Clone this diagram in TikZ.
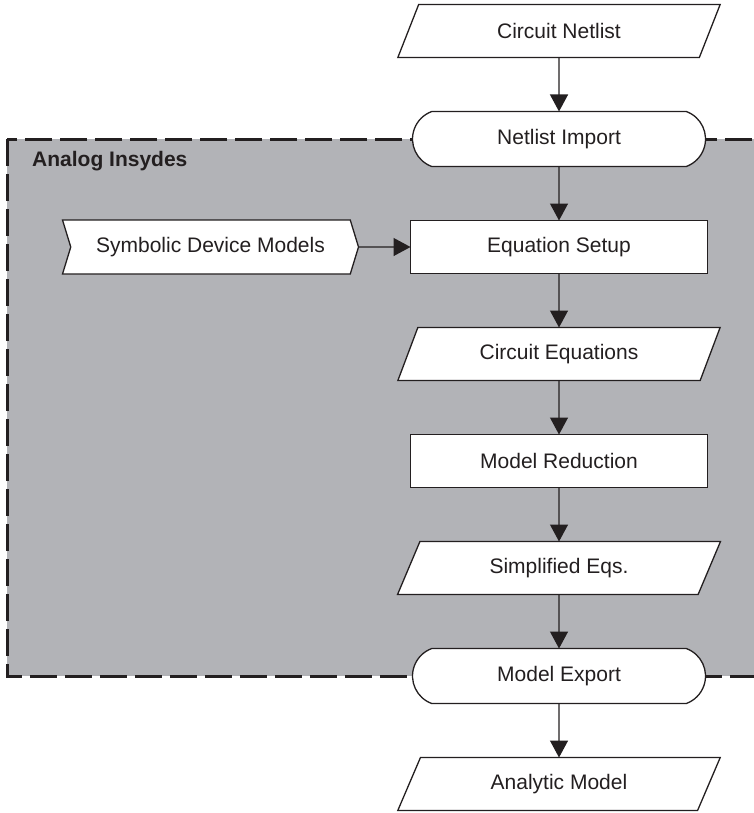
\documentclass[tikz,border=0pt]{standalone}
\usepackage{fontspec}
\setmainfont{Liberation Sans}
\usepackage{tikz}
\usetikzlibrary{arrows.meta,positioning,shapes.geometric,shapes.misc,shapes.symbols,backgrounds}
\definecolor{my_black}{RGB}{35,31,32}
\definecolor{my_gray}{RGB}{178,179,183}
\tikzset{
  flownode/.style = {align=center, inner sep=2pt, outer sep=0pt, draw=my_black, line width=1.3pt,
  fill=white, text=my_black, font=\fontsize{21}{25}\selectfont, minimum height=53pt},
  flw_box/.style = {flownode, rectangle, minimum width=297pt},
  flw_io/.style = {flownode, trapezium, trapezium left angle=64, trapezium right angle=116,
  trapezium stretches=true, minimum width=323pt},
  flw_term/.style = {flownode, rounded rectangle, rounded rectangle arc length=140,
  minimum width=297pt, minimum height=55pt},
  flw_src/.style = {flownode, signal, signal from=west, signal to=east, signal pointer angle=146,
  minimum width=296pt, minimum height=54pt}
}

\begin{document}
\begin{tikzpicture}[x=1pt,y=-1pt,node distance=54pt,
        flow_arrow/.style={-{Triangle[length=17pt,width=18pt]}, line width=1.3pt, draw=my_black},
        box_line/.style={draw=my_black, line width=3pt, dash pattern=on 27pt off 8pt, fill=my_gray}]
        \useasboundingbox (0,0) rectangle (754,813);
        \node [flw_io] (c_netlist) at (559,31) {Circuit Netlist};
        \node [flw_term, below=of c_netlist] (n_import) {Netlist Import};
        \node [flw_box, below=of n_import] (eq_setup) {Equation Setup};
        \node [flw_io, below=of eq_setup] (c_equations) {Circuit Equations};
        \node [flw_box, below=of c_equations] (m_reduction) {Model Reduction};
        \node [flw_io, below=of m_reduction] (s_eqs) {Simplified Eqs.};
        \node [flw_term, below=of s_eqs] (m_export) {Model Export};
        \node [flw_io, below=of m_export] (a_model) {Analytic Model};
        \node [flw_src, left=52pt of eq_setup] (sym_models) {Symbolic Device Models};
        \node [anchor=base west, inner sep=0pt, text=my_black,
               font=\fontsize{21}{25}\selectfont\bfseries] (title) at (32,167) {Analog Insydes};
        % connectors
        \foreach \a/\b in {c_netlist/n_import, n_import/eq_setup, eq_setup/c_equations,
                c_equations/m_reduction, m_reduction/s_eqs, s_eqs/m_export, m_export/a_model}
            \draw [flow_arrow] (\a) -- (\b);
        \draw [flow_arrow] (sym_models) -- (eq_setup);
        % dashed frame behind the flow
        \coordinate (left_edge) at (7,0);
        \coordinate (right_edge) at (770,0);
        \begin{scope}[on background layer]
            \draw [box_line] (left_edge |- n_import.center) rectangle (right_edge |- m_export.center);
        \end{scope}
\end{tikzpicture}
\end{document}
